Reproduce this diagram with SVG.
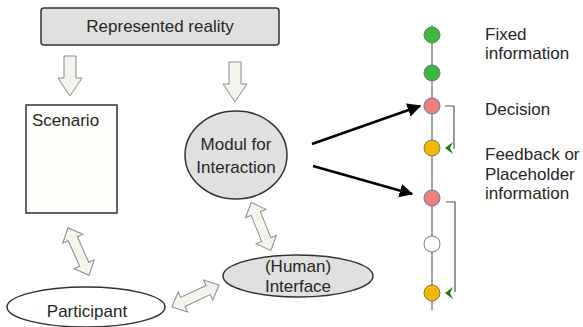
<svg xmlns="http://www.w3.org/2000/svg" width="583" height="327" viewBox="0 0 583 327">
<style>
text{font-family:"Liberation Sans",Arial,sans-serif;font-size:17px;fill:#262626}
.hol{fill:#f4f4ec;stroke:#8a8a8a;stroke-width:1}
.node{stroke:#333;stroke-width:1.5}
.dot{stroke:#777;stroke-width:1}
.br{fill:none;stroke:#555;stroke-width:1.2}
</style>
<defs>
<marker id="ah" viewBox="0 0 10 10" refX="9" refY="5" markerWidth="5.5" markerHeight="5.5" orient="auto">
<path d="M0,0 L10,5 L0,10 Z" fill="#000"/>
</marker>
<path id="hd" d="M-6,-20 L6,-20 L6,2 L12,2 L0,20 L-12,2 L-6,2 Z"/>
<path id="dbl" d="M-26,0 L-14,-11 L-14,-5 L14,-5 L14,-11 L26,0 L14,11 L14,5 L-14,5 L-14,11 Z"/>
<path id="gh" d="M5,-6 L-3,0 L5,6 L2,0 Z" fill="#1a7a1a"/>
</defs>
<rect width="583" height="327" fill="#fff"/>
<g id="reality">
<rect x="41" y="8" width="238" height="37" rx="3" fill="#e0e0e0" class="node"/>
<text x="160" y="32" text-anchor="middle">Represented reality</text>
</g>
<g id="scenario">
<rect x="26" y="105" width="91" height="108" fill="#fffefa" class="node"/>
<text x="32" y="126">Scenario</text>
</g>
<g id="modul">
<ellipse cx="236" cy="155" rx="51" ry="44" fill="#e0e0e0" class="node"/>
<text x="236" y="150" text-anchor="middle">Modul for</text>
<text x="236" y="173" text-anchor="middle">Interaction</text>
</g>
<g id="participant">
<ellipse cx="86" cy="307" rx="79" ry="20" fill="#fff" class="node"/>
<text x="87" y="317" text-anchor="middle">Participant</text>
</g>
<g id="interface">
<ellipse cx="298" cy="276" rx="75" ry="21" fill="#e0e0e0" class="node"/>
<text x="298" y="272" text-anchor="middle">(Human)</text>
<text x="298" y="292" text-anchor="middle">Interface</text>
</g>
<g id="timeline">
<line x1="432" y1="25" x2="432" y2="310" stroke="#888" stroke-width="1.5"/>
<circle cx="432" cy="35" r="8" fill="#3cb83c" class="dot"/>
<circle cx="432" cy="73" r="8" fill="#3cb83c" class="dot"/>
<circle cx="432" cy="106" r="8" fill="#f08080" class="dot"/>
<circle cx="432" cy="148" r="8" fill="#f5b800" class="dot"/>
<circle cx="432" cy="198" r="8" fill="#f08080" class="dot"/>
<circle cx="432" cy="244" r="8" fill="#fff" class="dot"/>
<circle cx="432" cy="293" r="8" fill="#f5b800" class="dot"/>
<polyline points="445,106 454,106 454,149" class="br"/>
<polyline points="446,202 455,202 455,292" class="br"/>
<use href="#gh" transform="translate(448,148)"/>
<use href="#gh" transform="translate(448,293)"/>
<text x="485" y="40">Fixed</text>
<text x="485" y="59">information</text>
<text x="485" y="115">Decision</text>
<text x="485" y="160">Feedback or</text>
<text x="485" y="180">Placeholder</text>
<text x="485" y="199">information</text>
</g>
<g id="connectors">
<use href="#hd" transform="translate(70,76)" class="hol"/>
<use href="#hd" transform="translate(235,82)" class="hol"/>
<use href="#dbl" transform="translate(78.5,251.5) rotate(66)" class="hol"/>
<use href="#dbl" transform="translate(261,226.5) rotate(68)" class="hol"/>
<use href="#dbl" transform="translate(195.5,296) rotate(-25)" class="hol"/>
<line x1="312" y1="144" x2="420" y2="106" stroke="#000" stroke-width="2.5" marker-end="url(#ah)"/>
<line x1="313" y1="166" x2="412" y2="194" stroke="#000" stroke-width="2.5" marker-end="url(#ah)"/>
</g>
</svg>
